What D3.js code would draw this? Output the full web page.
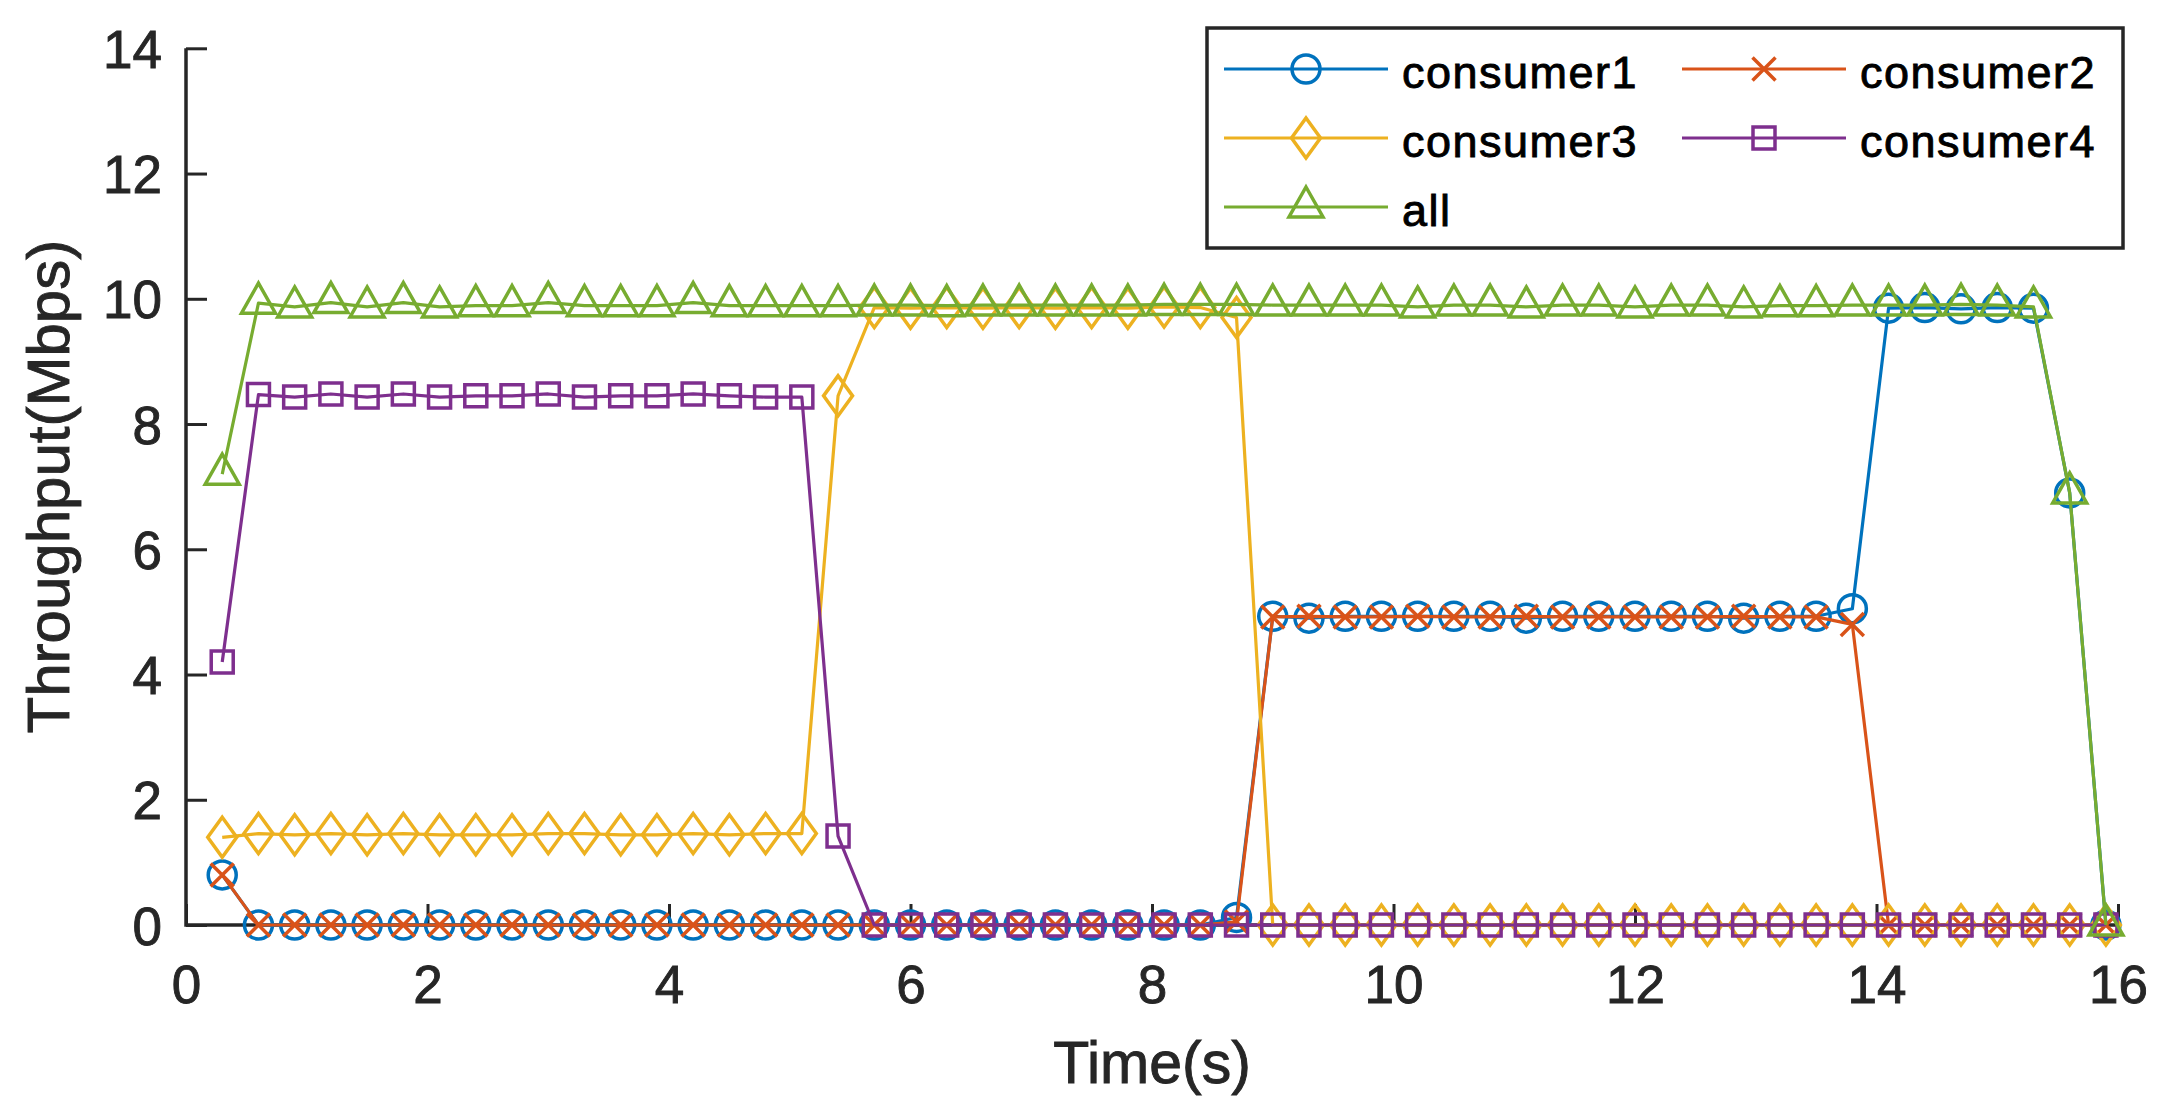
<!DOCTYPE html>
<html>
<head>
<meta charset="utf-8">
<script src="https://cdn.jsdelivr.net/npm/d3@7"></script>
<style>
  html, body { margin: 0; padding: 0; background: #ffffff; }
  svg { display: block; }
  text { font-family: "Liberation Sans", Arial, Helvetica, sans-serif; }
</style>
</head>
<body>
<svg id="chart" width="2164" height="1110"></svg>
<script>
// ---------------- data ----------------
const times = [0.3,0.6,0.9,1.2,1.5,1.8,2.1,2.4,2.7,3.0,3.3,3.6,3.9,4.2,4.5,4.8,5.1,5.4,5.7,6.0,6.3,6.6,6.9,7.2,7.5,7.8,8.1,8.4,8.7,9.0,9.3,9.6,9.9,10.2,10.5,10.8,11.1,11.4,11.7,12.0,12.3,12.6,12.9,13.2,13.5,13.8,14.1,14.4,14.7,15.0,15.3,15.6,15.9];

const consumer1 = [0.8,
  0,0,0,0,0,0,0,0,0,0,0,0,0,0,0,0,0,0,0,0,0,0,0,0,0,0,0,
  0.12,
  4.93,4.90,4.93,4.93,4.93,4.93,4.93,4.90,4.93,4.93,4.93,4.93,4.93,4.90,4.93,4.93,
  5.05,
  9.85,9.86,9.84,9.86,9.85,
  6.9,
  0];

const consumer2 = [0.8,
  0,0,0,0,0,0,0,0,0,0,0,0,0,0,0,0,0,0,0,0,0,0,0,0,0,0,0,
  0.05,
  4.92,4.93,4.92,4.92,4.93,4.92,4.92,4.93,4.92,4.92,4.92,4.92,4.92,4.93,4.92,4.92,
  4.8,
  0,0,0,0,0,0,0];

const consumer3 = [1.4,
  1.46,1.44,1.46,1.44,1.46,1.44,1.44,1.44,1.46,1.46,1.44,1.44,1.46,1.44,1.46,1.46,
  8.45,
  9.86,9.85,9.86,9.85,9.86,9.85,9.86,9.85,9.87,9.86,
  9.7,
  0,0,0,0,0,0,0,0,0,0,0,0,0,0,0,0,0,0,0,0,0,0,0,0];

const consumer4 = [4.2,
  8.47,8.43,8.48,8.43,8.48,8.43,8.45,8.45,8.48,8.43,8.45,8.45,8.48,8.45,8.43,8.43,
  1.42,
  0,0,0,0,0,0,0,0,0,0,0,0,0,0,0,0,0,0,0,0,0,0,0,0,0,0,0,0,0,0,0,0,0,0,0];

const allSeries = [7.2,
  9.93,9.87,9.94,9.87,9.94,9.87,9.89,9.89,9.94,9.89,9.89,9.89,9.94,9.89,9.89,9.89,9.89,9.90,9.90,9.89,9.90,9.90,9.90,9.90,9.90,
  9.91,9.91,9.91,9.90,9.90,9.90,9.90,9.87,9.90,9.90,9.87,9.90,9.90,9.87,9.90,9.90,9.87,9.89,9.89,9.90,9.90,9.90,9.91,9.90,9.87,
  6.9,
  0];

const seriesNames = ["consumer1", "consumer2", "consumer3", "consumer4", "all"];
const seriesColors = ["#0072BD", "#D95319", "#EDB120", "#7E2F8E", "#77AC30"];
const seriesMarkers = ["circle", "x", "diamond", "square", "triangle"];
const seriesValues = [consumer1, consumer2, consumer3, consumer4, allSeries];

const xTicks = [0, 2, 4, 6, 8, 10, 12, 14, 16];
const yTicks = [0, 2, 4, 6, 8, 10, 12, 14];
const xLabel = "Time(s)";
const yLabel = "Throughput(Mbps)";

// ---------------- layout ----------------
const plotLeft = 186, plotRight = 2118, plotTop = 48.3, plotBottom = 925;
const axisColor = "#262626";
const fontFam = "Liberation Sans, Arial, Helvetica, sans-serif";

const svg = d3.select("#chart");
const x = d3.scaleLinear().domain([0, 16]).range([plotLeft, plotRight]);
const y = d3.scaleLinear().domain([0, 14]).range([plotBottom, plotTop]);

function markerPath(type) {
  switch (type) {
    case "circle": {
      const r = 14;
      return `M${-r},0A${r},${r} 0 1,0 ${r},0A${r},${r} 0 1,0 ${-r},0Z`;
    }
    case "x": {
      const a = 11.5;
      return `M${-a},${-a}L${a},${a}M${-a},${a}L${a},${-a}`;
    }
    case "diamond": {
      const w = 14.5, h = 20;
      return `M0,${-h}L${w},0L0,${h}L${-w},0Z`;
    }
    case "square": {
      const s = 11;
      return `M${-s},${-s}L${s},${-s}L${s},${s}L${-s},${s}Z`;
    }
    case "triangle": {
      return `M0,-20L17,10L-17,10Z`;
    }
  }
}

// ---------------- axes (under data) ----------------
const axes = svg.append("g");
const tickLen = 21;

const xAxis = d3.axisBottom(x).tickValues(xTicks).tickSizeInner(-tickLen).tickSizeOuter(0).tickPadding(0).tickFormat(d3.format("d"));
const gx = axes.append("g").attr("transform", `translate(0,${plotBottom})`).call(xAxis);
gx.select(".domain").attr("stroke", axisColor).attr("stroke-width", 3.5).attr("d", `M${plotLeft},0H${plotRight}`);
gx.selectAll(".tick line").attr("stroke", axisColor).attr("stroke-width", 3);
gx.selectAll(".tick text")
  .attr("fill", axisColor)
  .attr("font-size", 53)
  .attr("y", 78)
  .attr("dy", 0);

const yAxis = d3.axisLeft(y).tickValues(yTicks).tickSizeInner(-tickLen).tickSizeOuter(0).tickPadding(0).tickFormat(d3.format("d"));
const gy = axes.append("g").attr("transform", `translate(${plotLeft},0)`).call(yAxis);
gy.select(".domain").attr("stroke", axisColor).attr("stroke-width", 3.5).attr("d", `M0,${plotBottom + 1.75}V${plotTop}`);
gy.selectAll(".tick line").attr("stroke", axisColor).attr("stroke-width", 3);
gy.selectAll(".tick text")
  .attr("fill", axisColor)
  .attr("font-size", 53)
  .attr("x", -24)
  .attr("dy", "0.36em");
svg.selectAll(".tick text")
  .attr("font-family", fontFam)
  .attr("stroke", axisColor)
  .attr("stroke-width", 0.9);

svg.append("text")
  .attr("x", (plotLeft + plotRight) / 2)
  .attr("y", 1083)
  .attr("text-anchor", "middle")
  .attr("font-size", 59)
  .attr("fill", axisColor)
  .attr("stroke", axisColor)
  .attr("stroke-width", 0.9)
  .text(xLabel);

svg.append("text")
  .attr("transform", `translate(69,${(plotTop + plotBottom) / 2}) rotate(-90)`)
  .attr("text-anchor", "middle")
  .attr("font-size", 60)
  .attr("fill", axisColor)
  .attr("stroke", axisColor)
  .attr("stroke-width", 0.9)
  .text(yLabel);

// ---------------- series ----------------
const plot = svg.append("g");
const lineGen = d3.line().x(d => x(d.t)).y(d => y(d.v));

seriesValues.forEach((vals, i) => {
  const pts = times.map((t, j) => ({ t: t, v: vals[j] }));
  const g = plot.append("g");
  g.append("path")
    .datum(pts)
    .attr("d", lineGen)
    .attr("fill", "none")
    .attr("stroke", seriesColors[i])
    .attr("stroke-width", 3.2)
    .attr("stroke-linejoin", "round");
  g.selectAll("path.mk")
    .data(pts)
    .join("path")
    .attr("class", "mk")
    .attr("transform", d => `translate(${x(d.t)},${y(d.v)})`)
    .attr("d", markerPath(seriesMarkers[i]))
    .attr("fill", "none")
    .attr("stroke", seriesColors[i])
    .attr("stroke-width", 3.5);
});

// ---------------- legend ----------------
const legend = svg.append("g");
legend.append("rect")
  .attr("x", 1207).attr("y", 28)
  .attr("width", 2123 - 1207).attr("height", 248 - 28)
  .attr("fill", "#ffffff")
  .attr("stroke", axisColor)
  .attr("stroke-width", 3.5);

const colX = [1224, 1682];
const rowY = [69, 138, 207];
seriesNames.forEach((name, i) => {
  const col = i % 2, row = Math.floor(i / 2);
  const lx = colX[col], ly = rowY[row];
  const g = legend.append("g");
  g.append("line")
    .attr("x1", lx).attr("x2", lx + 164)
    .attr("y1", ly).attr("y2", ly)
    .attr("stroke", seriesColors[i]).attr("stroke-width", 3.2);
  g.append("path")
    .attr("transform", `translate(${lx + 82},${ly})`)
    .attr("d", markerPath(seriesMarkers[i]))
    .attr("fill", "none")
    .attr("stroke", seriesColors[i])
    .attr("stroke-width", 3.5);
  g.append("text")
    .attr("x", lx + 178)
    .attr("y", ly + 19)
    .attr("font-size", 45)
    .attr("letter-spacing", 1.5)
    .attr("fill", "#000000")
    .attr("stroke", "#000000")
    .attr("stroke-width", 0.9)
    .text(name);
});
</script>
</body>
</html>
